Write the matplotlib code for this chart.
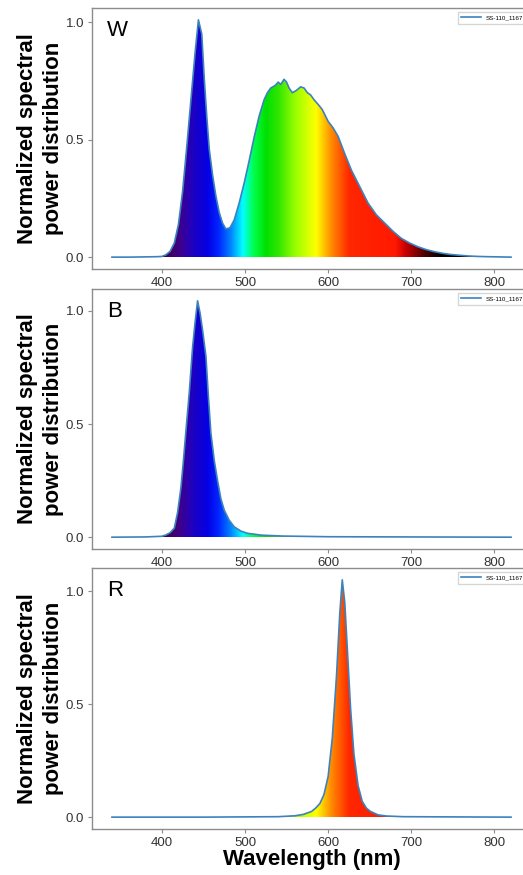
import numpy as np
import matplotlib
matplotlib.use("Agg")
import matplotlib.pyplot as plt
from matplotlib import font_manager

# ---------------- data ----------------
panel_labels = ["W", "B", "R"]
legend_label = "SS-110_1167"

w_wl = [340, 360, 380, 395, 400, 405, 410, 415, 420, 425, 430, 435, 440, 444,
        448, 451, 454, 457, 461, 465, 469, 473, 477, 482, 487, 493, 499, 505,
        511, 517, 523, 527, 531, 536, 540, 543, 547, 550, 553, 557, 562, 567,
        571, 575, 579, 583, 588, 593, 600, 606, 612, 620, 628, 638, 648, 658,
        668, 678, 688, 698, 708, 718, 728, 738, 748, 758, 768, 780, 790, 805, 820]
w_val = [0.0, 0.0, 0.001, 0.002, 0.003, 0.01, 0.025, 0.06, 0.14, 0.28, 0.47, 0.67, 0.87, 1.01,
         0.95, 0.76, 0.6, 0.46, 0.35, 0.26, 0.19, 0.145, 0.12, 0.125, 0.158, 0.23, 0.315, 0.41,
         0.51, 0.6, 0.67, 0.70, 0.72, 0.73, 0.745, 0.735, 0.757, 0.745, 0.72, 0.70, 0.71, 0.725,
         0.72, 0.70, 0.69, 0.67, 0.65, 0.628, 0.578, 0.55, 0.514, 0.44, 0.37, 0.30, 0.23, 0.18,
         0.145, 0.11, 0.08, 0.06, 0.044, 0.032, 0.023, 0.016, 0.011, 0.008, 0.005, 0.003, 0.002, 0.001, 0.0]

b_wl = [340, 380, 400, 405, 410, 415, 419, 423, 426, 429, 433, 437, 440, 443,
        446, 449, 453, 456, 459, 463, 467, 471, 475, 481, 487, 495, 503, 520,
        545, 600, 700, 820]
b_val = [0.0, 0.001, 0.004, 0.01, 0.02, 0.04, 0.11, 0.22, 0.34, 0.47, 0.64, 0.84, 0.95, 1.045,
         0.99, 0.915, 0.80, 0.62, 0.46, 0.34, 0.25, 0.17, 0.12, 0.075, 0.046, 0.027, 0.017, 0.009,
         0.005, 0.002, 0.001, 0.0]

r_wl = [340, 450, 540, 560, 570, 580, 585, 590, 595, 600, 605, 610, 614, 617,
        620, 623, 627, 631, 636, 641, 646, 651, 660, 670, 690, 750, 820]
r_val = [0.0, 0.0, 0.002, 0.006, 0.012, 0.025, 0.04, 0.06, 0.1, 0.18, 0.35, 0.62, 0.9, 1.05,
         0.95, 0.75, 0.48, 0.28, 0.14, 0.07, 0.04, 0.025, 0.01, 0.005, 0.002, 0.001, 0.0]

spectra = [(w_wl, w_val), (b_wl, b_val), (r_wl, r_val)]

# ---------------- style ----------------
avail = {f.name for f in font_manager.fontManager.ttflist}
base_font = "Liberation Sans" if "Liberation Sans" in avail else "DejaVu Sans"
plt.rcParams["font.family"] = [base_font, "DejaVu Sans"]

SPINE = "#8c8c8c"
LINE = "#3d82bd"


def wavelength_rgb(wl):
    """spectral colour for each wavelength (styling only)"""
    stops = np.array([300, 380, 412, 422, 432, 442, 455, 468, 482, 497, 510, 525, 540, 560,
                      585, 603, 625, 680, 692, 715, 735, 900])
    R = np.array([0.05, 0.12, 0.25, 0.24, 0.16, 0.08, 0.02, 0.0, 0.0, 0.0, 0.0, 0.0, 0.2, 0.6,
                  1.0, 1.0, 1.0, 1.0, 0.8, 0.3, 0.0, 0.0])
    G = np.array([0.0, 0.0, 0.0, 0.0, 0.0, 0.0, 0.0, 0.15, 0.5, 1.0, 1.0, 0.88, 0.9, 1.0,
                  1.0, 0.55, 0.15, 0.1, 0.0, 0.0, 0.0, 0.0])
    B = np.array([0.1, 0.2, 0.4, 0.55, 0.7, 0.8, 0.9, 1.0, 1.0, 1.0, 0.3, 0.0, 0.0, 0.0,
                  0.0, 0.0, 0.0, 0.0, 0.0, 0.0, 0.0, 0.0])
    return np.stack([np.interp(wl, stops, R), np.interp(wl, stops, G), np.interp(wl, stops, B)], axis=-1)


W, H = 523, 875
fig = plt.figure(figsize=(W / 100, H / 100), dpi=100)

left = 92 / W
width = (531 - 92) / W
tops_bottoms = [(8, 269), (289, 549), (568, 829)]

for i, ((wl, val), lab) in enumerate(zip(spectra, panel_labels)):
    top, bot = tops_bottoms[i]
    ax = fig.add_axes([left, 1 - bot / H, width, (bot - top) / H])
    wl = np.asarray(wl, float)
    val = np.asarray(val, float)
    poly = ax.fill_between(wl, 0, val, facecolor="none", edgecolor="none")
    ax.plot(wl, val, color=LINE, lw=1.2, label=legend_label, zorder=3)
    xl = ax.get_xlim()
    yl = ax.get_ylim()
    grid = np.linspace(wl.min(), wl.max(), 1200)
    img = wavelength_rgb(grid)[np.newaxis, :, :]
    im = ax.imshow(img, extent=[wl.min(), wl.max(), 0, val.max() * 1.02], aspect="auto",
                   origin="lower", interpolation="bilinear", zorder=2)
    im.set_clip_path(poly.get_paths()[0], transform=ax.transData)
    ax.set_xlim(xl)
    ax.set_ylim(yl)

    ax.set_yticks([0.0, 0.5, 1.0])
    ax.set_yticklabels(["0.0", "0.5", "1.0"])
    ax.set_xticks([400, 500, 600, 700, 800])
    for s in ax.spines.values():
        s.set_color(SPINE)
        s.set_linewidth(1.0)
    ax.tick_params(colors=SPINE, labelcolor="#333333", labelsize=9.5, length=3, width=0.8,
                   pad=2.5)

    ax.text(0.034, 0.915, lab, transform=ax.transAxes, fontsize=16, va="center", ha="left",
            color="black")
    ax.set_ylabel("Normalized spectral\npower distribution", fontsize=16, fontweight="bold",
                  labelpad=1, linespacing=1.35)

    ax.legend(loc="upper left", bbox_to_anchor=((458 - 92) / (531 - 92), 0.985), fontsize=4.5,
              frameon=True, fancybox=False, edgecolor="#cccccc", handlelength=3.2,
              borderpad=0.5, borderaxespad=0)

    if i == 2:
        ax.set_xlabel("Wavelength (nm)", fontsize=16, fontweight="bold", labelpad=0)

fig.savefig("out.png", dpi=100)
